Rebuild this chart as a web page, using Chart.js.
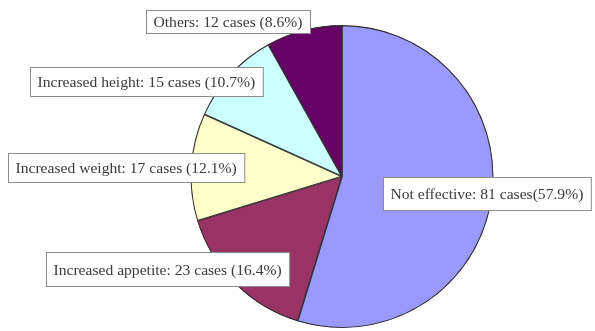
<!DOCTYPE html>
<html>
<head>
<meta charset="utf-8">
<script src="https://cdn.jsdelivr.net/npm/chart.js@4.4.1/dist/chart.umd.min.js"></script>
<style>
    html, body { margin: 0; padding: 0; background: #fff; }
    #wrap { width: 595px; height: 331px; position: relative; }
</style>
</head>
<body>
<div id="wrap"><canvas id="pie"></canvas></div>
<script>
// ── Data ──
const categories = ['Not effective', 'Increased appetite', 'Increased weight', 'Increased height', 'Others'];
const cases      = [81, 23, 17, 15, 12];
const percents   = ['57.9%', '16.4%', '12.1%', '10.7%', '8.6%'];
const colors     = ['#9999FF', '#993366', '#FFFFCC', '#CCFFFF', '#660066'];

// label box placement, offset from pie centre (px) and box height
const labelBoxes = [
    { dx:   41, dy:    0, h: 33 },
    { dx: -296, dy:   75, h: 34 },
    { dx: -334, dy:  -24, h: 29 },
    { dx: -312, dy: -110, h: 29 },
    { dx: -196, dy: -167, h: 23 },
];

function labelText(i) {
    if (i === 0) return `${categories[i]}: ${cases[i]} cases(${percents[i]})`;
    return `${categories[i]}: ${cases[i]} cases (${percents[i]})`;
}

// ── Box labels plugin ──
const boxLabels = {
    id: 'boxLabels',
    afterDatasetsDraw(chart) {
        const { ctx } = chart;
        const arc = chart.getDatasetMeta(0).data[0];
        const cx = arc.x, cy = arc.y;
        ctx.save();
        ctx.font = '15.6px "Liberation Serif", "Times New Roman", serif';
        ctx.textBaseline = 'middle';
        labelBoxes.forEach((b, i) => {
            const txt = labelText(i);
            const w   = ctx.measureText(txt).width + 15;
            const x   = Math.round(cx + b.dx) + 0.5;
            const y   = Math.round(cy + b.dy) + 0.5;
            ctx.fillStyle = '#ffffff';
            ctx.fillRect(x, y, w, b.h);
            ctx.strokeStyle = '#8c8c8c';
            ctx.lineWidth = 1;
            ctx.strokeRect(x, y, w, b.h);
            ctx.fillStyle = '#3a3a3a';
            ctx.fillText(txt, x + 7, y + b.h / 2 + 1);
        });
        ctx.restore();
    },
};

new Chart(document.getElementById('pie'), {
    type: 'pie',
    data: {
        labels: categories,
        datasets: [{
            data:            cases,
            backgroundColor: colors,
            borderColor:     '#333333',
            borderWidth:     0.8,
            borderAlign:     'inner',
        }],
    },
    options: {
        responsive: true,
        maintainAspectRatio: false,
        animation: false,
        layout: { padding: { top: 25, bottom: 3, left: 89, right: 0 } },
        plugins: {
            legend:  { display: false },
            tooltip: { enabled: false },
        },
    },
    plugins: [boxLabels],
});
</script>
</body>
</html>
